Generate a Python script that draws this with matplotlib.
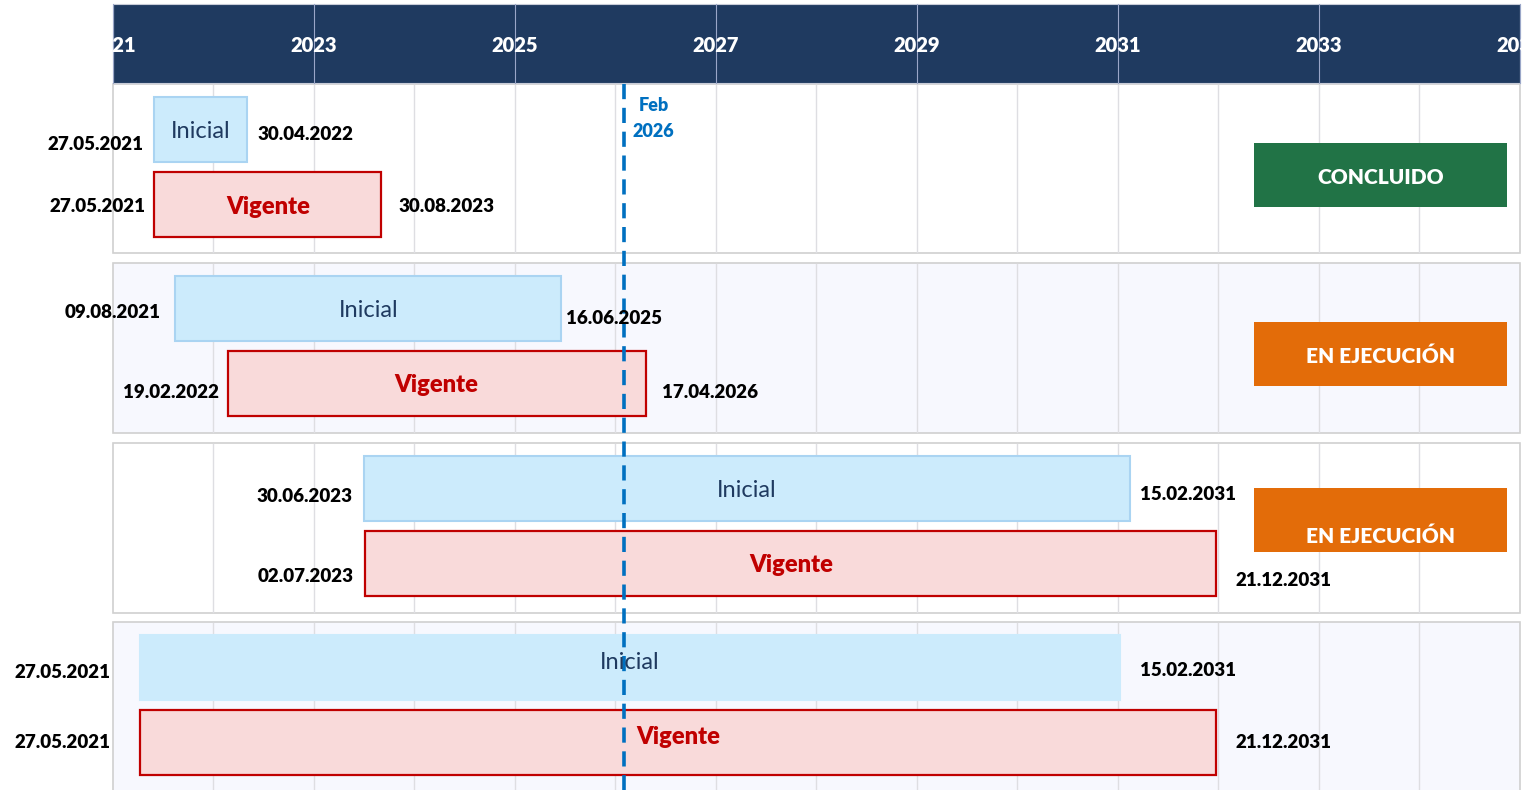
import matplotlib.pyplot as plt
from matplotlib.patches import Rectangle

plt.rcParams['font.family'] = ['Lato', 'DejaVu Sans']

# data (decimal years)
year_ticks = list(range(2021, 2036, 2))
today = 2026.08
today_label = 'Feb\n2026'

ini_start = [2021.41, 2021.62, 2023.50, 2021.27]
ini_end = [2022.33, 2025.46, 2031.12, 2031.02]
vig_start = [2021.41, 2022.14, 2023.51, 2021.27]
vig_end = [2023.67, 2026.30, 2031.98, 2031.98]

ini_start_lbl = ['27.05.2021', '09.08.2021', '30.06.2023', '27.05.2021']
ini_end_lbl = ['30.04.2022', '16.06.2025', '15.02.2031', '15.02.2031']
vig_start_lbl = ['27.05.2021', '19.02.2022', '02.07.2023', '27.05.2021']
vig_end_lbl = ['30.08.2023', '17.04.2026', '21.12.2031', '21.12.2031']
status = ['CONCLUIDO', 'EN EJECUCIÓN', 'EN EJECUCIÓN', None]

# layout (pixels)
px_year = 100.5
x0 = 2021 - 113 / px_year
x1 = x0 + 1528 / px_year
panel_top = [84, 263, 443, 622]
panel_h = [169, 170, 170, 175]
panel_fc = ['white', '#F7F8FE', 'white', '#F7F8FE']
lbl_y = [(143, 133, 204, 205), (311, 316, 391, 391), (494, 492, 575, 578), (671, 669, 740, 740)]
lbl_gap = [(11, 11, 9, 17), (15, 5, 9, 16), (12, 10, 12, 19), (30, 20, 30, 19)]
text_dy = [0, 0, 0, -7]
status_dy = [59, 59, 45]
status_fc = {'CONCLUIDO': '#217346', 'EN EJECUCIÓN': '#E36C09'}
ty = 2  # Lato sits a little high when centred

NAVY = '#1F3A60'
BLUE = '#0070C0'
RED = '#C00000'

fig = plt.figure(figsize=(15.28, 7.9), dpi=100)
ax = fig.add_axes([0, 0, 1, 1])
ax.set_xlim(x0, x1)
ax.set_ylim(790, 0)
ax.axis('off')

# header
hdr = Rectangle((2021, 4), 14, 79, facecolor=NAVY, edgecolor='#C8CCD8', lw=0.8, zorder=2)
ax.add_patch(hdr)
for yr in year_ticks:
    ax.plot([yr, yr], [4, 83], color='#9AA6C8', lw=0.8, zorder=3)
    t = ax.text(yr, 44 + ty, str(yr), color='white', fontsize=14.5, fontweight='heavy',
                ha='center', va='center', zorder=4)
    t.set_clip_path(hdr)

# panels
for i, top in enumerate(panel_top):
    h = panel_h[i]
    ax.add_patch(Rectangle((2021, top), 14, h, facecolor=panel_fc[i],
                           edgecolor='#D0D0D0', lw=1.2, zorder=1))
    for yr in range(2022, 2035):
        ax.plot([yr, yr], [top + 1, top + h - 1], color='#DEDEE2', lw=1, zorder=1.5)

    # Inicial bar
    ec = '#AAD4F2' if i < 3 else '#CCEBFC'
    ax.add_patch(Rectangle((ini_start[i], top + 13), ini_end[i] - ini_start[i], 65,
                           facecolor='#CCEBFC', edgecolor=ec, lw=1.5, zorder=3))
    ax.text((ini_start[i] + ini_end[i]) / 2, top + 45.5 + text_dy[i] + ty, 'Inicial',
            color=NAVY, fontsize=17, ha='center', va='center', zorder=6)

    # Vigente bar
    ax.add_patch(Rectangle((vig_start[i], top + 88), vig_end[i] - vig_start[i], 65,
                           facecolor='#F9DADA', edgecolor=RED, lw=1.6, zorder=3))
    ax.text((vig_start[i] + vig_end[i]) / 2, top + 120.5 + text_dy[i] + ty, 'Vigente',
            color=RED, fontsize=17, fontweight='heavy', ha='center', va='center', zorder=6)

    # date labels
    ys = lbl_y[i]
    gs = lbl_gap[i]
    kw = dict(textcoords='offset pixels', fontsize=13.5, fontweight='heavy',
              color='black', va='center', zorder=6)
    ax.annotate(ini_start_lbl[i], (ini_start[i], ys[0] + ty), xytext=(-gs[0], 0), ha='right', **kw)
    ax.annotate(ini_end_lbl[i], (ini_end[i], ys[1] + ty), xytext=(gs[1], 0), ha='left', **kw)
    ax.annotate(vig_start_lbl[i], (vig_start[i], ys[2] + ty), xytext=(-gs[2], 0), ha='right', **kw)
    ax.annotate(vig_end_lbl[i], (vig_end[i], ys[3] + ty), xytext=(gs[3], 0), ha='left', **kw)

    # status box
    if status[i]:
        bx0 = 2021 + (1254 - 113) / px_year
        bw = (1507 - 1254) / px_year
        ax.add_patch(Rectangle((bx0, top + status_dy[i]), bw, 64,
                               facecolor=status_fc[status[i]], edgecolor='none', zorder=3))
        ax.text(bx0 + bw / 2, top + 91 + ty, status[i], color='white', fontsize=15,
                fontweight='heavy', ha='center', va='center', zorder=6)

# today line
ax.plot([today, today], [84, 792], color=BLUE, lw=2.6, ls=(0, (4.2, 2.4)), zorder=5)
ax.annotate(today_label, (today, 116.5 + ty), xytext=(30, 0), textcoords='offset pixels',
            color=BLUE, fontsize=13, fontweight='heavy', ha='center', va='center',
            linespacing=1.6, zorder=6)

plt.savefig('out.png', dpi=100)
